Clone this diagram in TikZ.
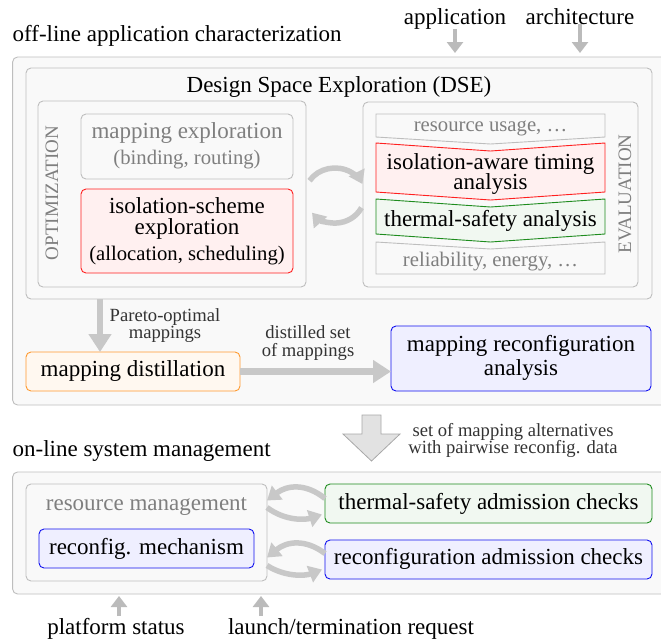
\documentclass[tikz,border=0pt]{standalone}
\usepackage{fontspec}
\setmainfont{Liberation Serif}
\usetikzlibrary{arrows.meta}

\definecolor{panelfill}{HTML}{F9F9F9}
\definecolor{panelline}{HTML}{BEBEBE}
\definecolor{flowgrey}{HTML}{C8C8C8}
\definecolor{feedgrey}{HTML}{BBBBBB}
\definecolor{softtext}{HTML}{7F7F7F}
\definecolor{redfill}{HTML}{FFF0F0}
\definecolor{redline}{HTML}{FF2020}
\definecolor{greenfill}{HTML}{F1F8F1}
\definecolor{greenline}{HTML}{1E8C1E}
\definecolor{bluefill}{HTML}{EFEFFF}
\definecolor{blueline}{HTML}{1010F0}
\definecolor{orangefill}{HTML}{FFF8F0}
\definecolor{orangeline}{HTML}{FF9A30}
\definecolor{bigarrowfill}{HTML}{E2E2E2}
\definecolor{bigarrowline}{HTML}{A8A8A8}

\newcommand\fmain{\fontsize{23}{19}\selectfont}
\newcommand\fsmallish{\fontsize{20.7}{20}\selectfont}
\newcommand\flabel{\fontsize{18.6}{18}\selectfont}
\newcommand\fcaps{\fontsize{19}{20}\selectfont}

\tikzset{
  panel/.style={draw=panelline, fill=panelfill, rounded corners=5pt, line width=0.9pt,
    inner sep=0pt, outer sep=0pt, anchor=north west},
  redbox/.style={panel, draw=redline, fill=redfill},
  greenbox/.style={panel, draw=greenline, fill=greenfill},
  bluebox/.style={panel, draw=blueline, fill=bluefill},
  orangebox/.style={panel, draw=orangeline, fill=orangefill},
  txt/.style={inner sep=0pt, outer sep=0pt, anchor=base, font=\fmain},
  smalltxt/.style={txt, font=\fsmallish},
  lab/.style={txt, font=\flabel, text=black!80},
  captxt/.style={inner sep=0pt, anchor=center, font=\fcaps, text=softtext},
  flow/.style={draw=flowgrey, line width=6.5pt, -{Triangle[length=18pt,width=22pt]}},
  feed/.style={draw=feedgrey, line width=4.5pt, -{Triangle[length=11pt,width=16pt]}},
  loopy/.style={draw=flowgrey, line width=5.5pt, -{Triangle[length=13pt,width=17pt]}},
}

\begin{document}
\begin{tikzpicture}[x=1pt,y=1pt]
\useasboundingbox (0,0) rectangle (661,-641);
\clip (0,0) rectangle (661,-641);

% ---------- off-line part ----------
\node[txt, anchor=base west] (offT) at (12.6,-41) {off-line application characterization};
\node[txt] (appT) at (455,-24) {application};
\node[txt] (archT) at (580,-24) {architecture};

\node[panel, minimum width=655pt, minimum height=348pt] (offline) at (12.6,-57) {};
\node[panel, minimum width=626pt, minimum height=231pt] (dse) at (26,-68) {};
\node[txt] (dseT) at (339,-92) {Design Space Exploration (DSE)};

% optimization side
\node[panel, minimum width=268pt, minimum height=186pt] (opt) at (38,-101) {};
\node[captxt, rotate=90] (optT) at (52,-193) {OPTIMIZATION};
\node[panel, minimum width=212pt, minimum height=65pt] (mapx) at (81,-114) {};
\node[txt, text=softtext] (mapxA) at (187,-138) {mapping exploration};
\node[smalltxt, text=softtext] (mapxB) at (187,-164) {(binding, routing)};
\node[redbox, minimum width=212pt, minimum height=84pt] (isox) at (81,-189) {};
\node[txt] (isoA) at (187,-213) {isolation-scheme};
\node[txt] (isoB) at (187,-234) {exploration};
\node[smalltxt] (isoC) at (187,-260) {(allocation, scheduling)};

% evaluation side
\node[panel, minimum width=275pt, minimum height=185pt] (eval) at (363,-102) {};
\node[captxt, rotate=90] (evalT) at (625,-194) {EVALUATION};
\draw[draw=panelline, line width=0.9pt]
  (376,-114) -- (605,-114) -- (605,-137) -- (490.5,-144) -- (376,-137) -- cycle;
\draw[draw=redline, fill=redfill, line width=0.9pt]
  (376,-143) -- (490.5,-151) -- (605,-143) -- (605,-192) -- (490.5,-200) -- (376,-192) -- cycle;
\draw[draw=greenline, fill=greenfill, line width=0.9pt]
  (376,-199) -- (490.5,-207) -- (605,-199) -- (605,-234) -- (490.5,-242) -- (376,-234) -- cycle;
\draw[draw=panelline, line width=0.9pt]
  (376,-242) -- (490.5,-249) -- (605,-242) -- (605,-274) -- (376,-274) -- cycle;
\node[smalltxt, text=softtext] (resU) at (490.5,-131.5) {resource usage, \ldots};
\node[txt] (timA) at (490.5,-169.5) {isolation-aware timing};
\node[txt] (timB) at (490.5,-189.5) {analysis};
\node[txt] (thermA) at (490.5,-226) {thermal-safety analysis};
\node[smalltxt, text=softtext] (relT) at (490.5,-266.5) {reliability, energy, \ldots};

% optimization/evaluation loop
\draw[loopy] (335,-195) ++(148:30 and 27) arc[start angle=148, end angle=24, x radius=30, y radius=27];
\draw[loopy] (335,-195) ++(-28:30 and 27) arc[start angle=-28, end angle=-140, x radius=30, y radius=29];

% distillation and reconfiguration analysis
\node[orangebox, minimum width=214pt, minimum height=39pt] (distill) at (26,-352) {};
\node[txt] (distT) at (133,-376) {mapping distillation};
\node[bluebox, minimum width=260pt, minimum height=65pt] (mrca) at (391,-326) {};
\node[txt] (mrcaA) at (521,-351.5) {mapping reconfiguration};
\node[txt] (mrcaB) at (521,-375) {analysis};

\node[lab] (parA) at (165,-321) {Pareto-optimal};
\node[lab] (parB) at (165,-338.5) {mappings};
\node[lab] (disA) at (308,-338) {distilled set};
\node[lab] (disB) at (308,-356) {of mappings};

\coordinate (parX) at (100,0);
\draw[flow] (dse.south -| parX) -- (distill.north -| parX);
\draw[flow] (distill.east) -- (mrca.west |- distill.east);

\draw[feed, shorten >=4pt] (appT.south) -- (appT.south |- offline.north);
\draw[feed, shorten >=4pt] (archT.south) -- (archT.south |- offline.north);

% hand-over to the on-line part
\draw[draw=bigarrowline, fill=bigarrowfill, line width=0.8pt]
  (362,-415) -- (381,-415) -- (381,-434) -- (400,-434) -- (371.5,-461)
  -- (343,-434) -- (362,-434) -- cycle;
\node[lab] (altA) at (513,-436) {set of mapping alternatives};
\node[lab] (altB) at (513,-453) {with pairwise reconfig. data};

% ---------- on-line part ----------
\node[txt, anchor=base west] (onT) at (12.6,-456) {on-line system management};
\node[panel, minimum width=655pt, minimum height=122pt] (online) at (12.6,-472) {};
\node[panel, minimum width=241pt, minimum height=97pt] (resmgmt) at (26,-484) {};
\node[txt, text=softtext] (resT) at (146.5,-510.5) {resource management};
\node[bluebox, minimum width=215pt, minimum height=39pt] (rmech) at (39,-529) {};
\node[txt] (rmechT) at (146.5,-554) {reconfig. mechanism};
\node[greenbox, minimum width=327pt, minimum height=39pt] (tchk) at (325,-484) {};
\node[txt] (tchkT) at (488.5,-509) {thermal-safety admission checks};
\node[bluebox, minimum width=327pt, minimum height=39pt] (rchk) at (325,-540) {};
\node[txt] (rchkT) at (488.5,-564) {reconfiguration admission checks};

\draw[loopy] ([yshift=5pt]tchk.west) .. controls (306,-483) and (287,-485) .. ([yshift=3pt]resmgmt.east |- tchk.west);
\draw[loopy] ([yshift=-4pt]resmgmt.east |- tchk.west) .. controls (285,-521) and (305,-520) .. ([xshift=-3pt,yshift=-11pt]tchk.west);
\draw[loopy] ([yshift=6pt]rchk.west) .. controls (306,-539) and (287,-541) .. ([yshift=2pt]resmgmt.east |- rchk.west);
\draw[loopy] ([yshift=-6pt]resmgmt.east |- rchk.west) .. controls (285,-577) and (305,-576) .. ([xshift=-3pt,yshift=-10pt]rchk.west);

\node[txt] (platT) at (116,-634) {platform status};
\node[txt] (lnchT) at (351,-634) {launch/termination request};
\coordinate (platX) at (119,-616);
\coordinate (lnchX) at (261,-616);
\draw[feed, shorten >=2pt] (platX) -- (platX |- online.south);
\draw[feed, shorten >=2pt] (lnchX) -- (lnchX |- online.south);
\end{tikzpicture}
\end{document}
